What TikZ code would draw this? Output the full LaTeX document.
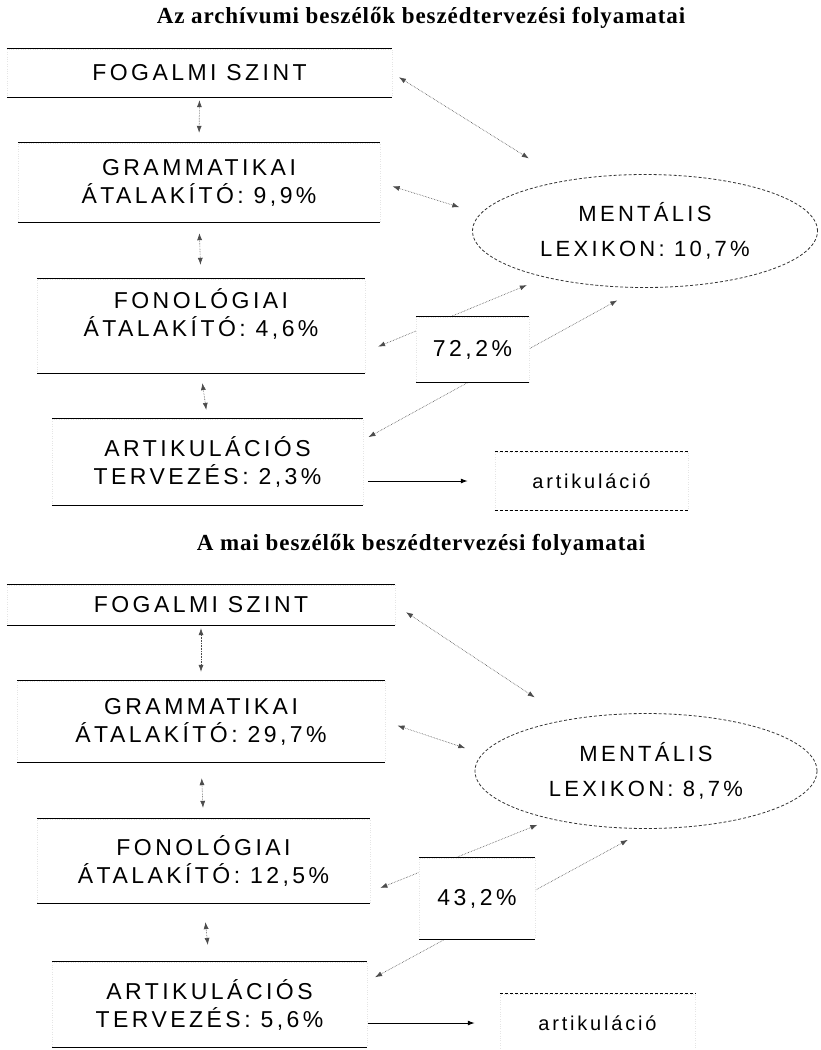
\documentclass[tikz,border=0pt]{standalone}
\usepackage{fontspec}
\setmainfont{Liberation Serif}
\setsansfont{Liberation Sans}
\newfontfamily\dobozfont[LetterSpace=15]{Liberation Sans}
\newfontfamily\kisfont[LetterSpace=14]{Liberation Sans}
\newfontfamily\cimfont[LetterSpace=4]{Liberation Serif}
\usepackage{tikz}
\usetikzlibrary{shapes.geometric}
\usetikzlibrary{arrows.meta}
\newcommand{\szintvonal}[2][line width=1.2pt]{\draw[#1] (#2.north west) -- (#2.north east) (#2.south west) -- (#2.south east);}
\tikzset{
  cim/.style={font=\cimfont\bfseries\fontsize{23}{26}\selectfont},
  doboz/.style={rectangle, draw=gray!20, dotted, fill=white, align=center, inner sep=0pt,
    font=\dobozfont\fontsize{23}{28}\selectfont},
  mentalis/.style={ellipse, draw=black!80, densely dashed, line width=0.8pt, inner sep=0pt,
    align=center, font=\dobozfont\fontsize{22}{35}\selectfont},
  kimenet/.style={rectangle, draw=gray!20, dotted, inner sep=0pt,
    font=\kisfont\fontsize{20}{22}\selectfont},
  kapcsolat/.style={<->, densely dotted, draw=black!70, line width=0.6pt},
  kimeno/.style={->, line width=1pt}
}

\begin{document}
\begin{tikzpicture}[x=1pt,y=-1pt,>={Latex[length=7pt,width=5pt]}]
\useasboundingbox (0,0) rectangle (821,1050);
% archivumi beszelok
\node (cim1) [cim] at (421,18) {Az archívumi beszélők beszédtervezési folyamatai};
\node (fogalmi1) [doboz, minimum width=385pt, minimum height=48pt] at (199.5,73) {FOGALMI SZINT};
\node (gramm1) [doboz, minimum width=362pt, minimum height=79pt] at (199,182.5) {GRAMMATIKAI\\ÁTALAKÍTÓ: 9,9\%};
\node (fonol1) [doboz, minimum width=328pt, minimum height=94pt, text depth=26pt] at (201,326) {FONOLÓGIAI\\ÁTALAKÍTÓ: 4,6\%};
\node (artik1) [doboz, minimum width=311pt, minimum height=86pt] at (207.5,462) {ARTIKULÁCIÓS\\TERVEZÉS: 2,3\%};
\node (lexikon1) [mentalis, minimum width=345pt, minimum height=113pt] at (645,231) {MENTÁLIS\\LEXIKON: 10,7\%};
\node (kimenet1) [kimenet, minimum width=193pt, minimum height=58pt] at (591.5,481) {artikuláció};
\szintvonal{fogalmi1}
\szintvonal{gramm1}
\szintvonal{fonol1}
\szintvonal{artik1}
\szintvonal[densely dashed, line width=0.8pt]{kimenet1}
\draw[kapcsolat, shorten <=3pt, shorten >=10pt] (fogalmi1.south) -- (gramm1.north);
\draw[kapcsolat, shorten <=11pt, shorten >=14pt] (gramm1.south) -- (fonol1.north);
\draw[kapcsolat, shorten <=10pt, shorten >=9pt] (fonol1.south) -- (artik1.north);
\draw[kapcsolat, shorten <=8pt, shorten >=42pt] (fogalmi1.east) -- (lexikon1);
\draw[kapcsolat, shorten <=13pt, shorten >=22pt] (gramm1.east) -- (lexikon1.174);
\draw[kapcsolat, shorten <=14pt, shorten >=20pt] ([yshift=-26pt]fonol1.east) -- (lexikon1.205);
\draw[kapcsolat, shorten <=6pt, shorten >=26pt] ([yshift=22pt]artik1.east) -- (lexikon1.265);
\node (arany1) [doboz, minimum width=113pt, minimum height=65pt] at (472.5,349.5) {72,2\%};
\szintvonal{arany1}
\draw[kimeno, shorten <=5pt, shorten >=27pt] (artik1.east |- kimenet1.west) -- (kimenet1.west);
% mai beszelok
\node (cim2) [cim] at (421,545) {A mai beszélők beszédtervezési folyamatai};
\node (fogalmi2) [doboz, minimum width=388pt, minimum height=40pt] at (201,605) {FOGALMI SZINT};
\node (gramm2) [doboz, minimum width=368pt, minimum height=81pt] at (201,721.5) {GRAMMATIKAI\\ÁTALAKÍTÓ: 29,7\%};
\node (fonol2) [doboz, minimum width=333pt, minimum height=84pt] at (203.5,861) {FONOLÓGIAI\\ÁTALAKÍTÓ: 12,5\%};
\node (artik2) [doboz, minimum width=315pt, minimum height=85pt] at (209.5,1004.5) {ARTIKULÁCIÓS\\TERVEZÉS: 5,6\%};
\node (lexikon2) [mentalis, minimum width=342pt, minimum height=115pt] at (646,771) {MENTÁLIS\\LEXIKON: 8,7\%};
\node (kimenet2) [kimenet, minimum width=195pt, minimum height=58pt] at (597.5,1023) {artikuláció};
\szintvonal{fogalmi2}
\szintvonal{gramm2}
\szintvonal{fonol2}
\szintvonal{artik2}
\szintvonal[densely dashed, line width=0.8pt]{kimenet2}
\draw[kapcsolat, shorten <=3pt, shorten >=9pt] (fogalmi2.south) -- (gramm2.north);
\draw[kapcsolat, shorten <=16pt, shorten >=11pt] (gramm2.south) -- (fonol2.north);
\draw[kapcsolat, shorten <=19pt, shorten >=17pt] (fonol2.south) -- (artik2.north);
\draw[kapcsolat, shorten <=13pt, shorten >=40pt] (fogalmi2.east) -- (lexikon2);
\draw[kapcsolat, shorten <=13pt, shorten >=18pt] (gramm2.east) -- (lexikon2.174);
\draw[kapcsolat, shorten <=11pt, shorten >=15pt] ([yshift=-31pt]fonol2.east) -- (lexikon2.207);
\draw[kapcsolat, shorten <=9pt, shorten >=23pt] ([yshift=23pt]artik2.east) -- (lexikon2.272);
\node (arany2) [doboz, minimum width=116pt, minimum height=81pt] at (477,898.5) {43,2\%};
\szintvonal{arany2}
\draw[kimeno, shorten <=1pt, shorten >=25pt] (artik2.east |- kimenet2.west) -- (kimenet2.west);
\end{tikzpicture}
\end{document}
